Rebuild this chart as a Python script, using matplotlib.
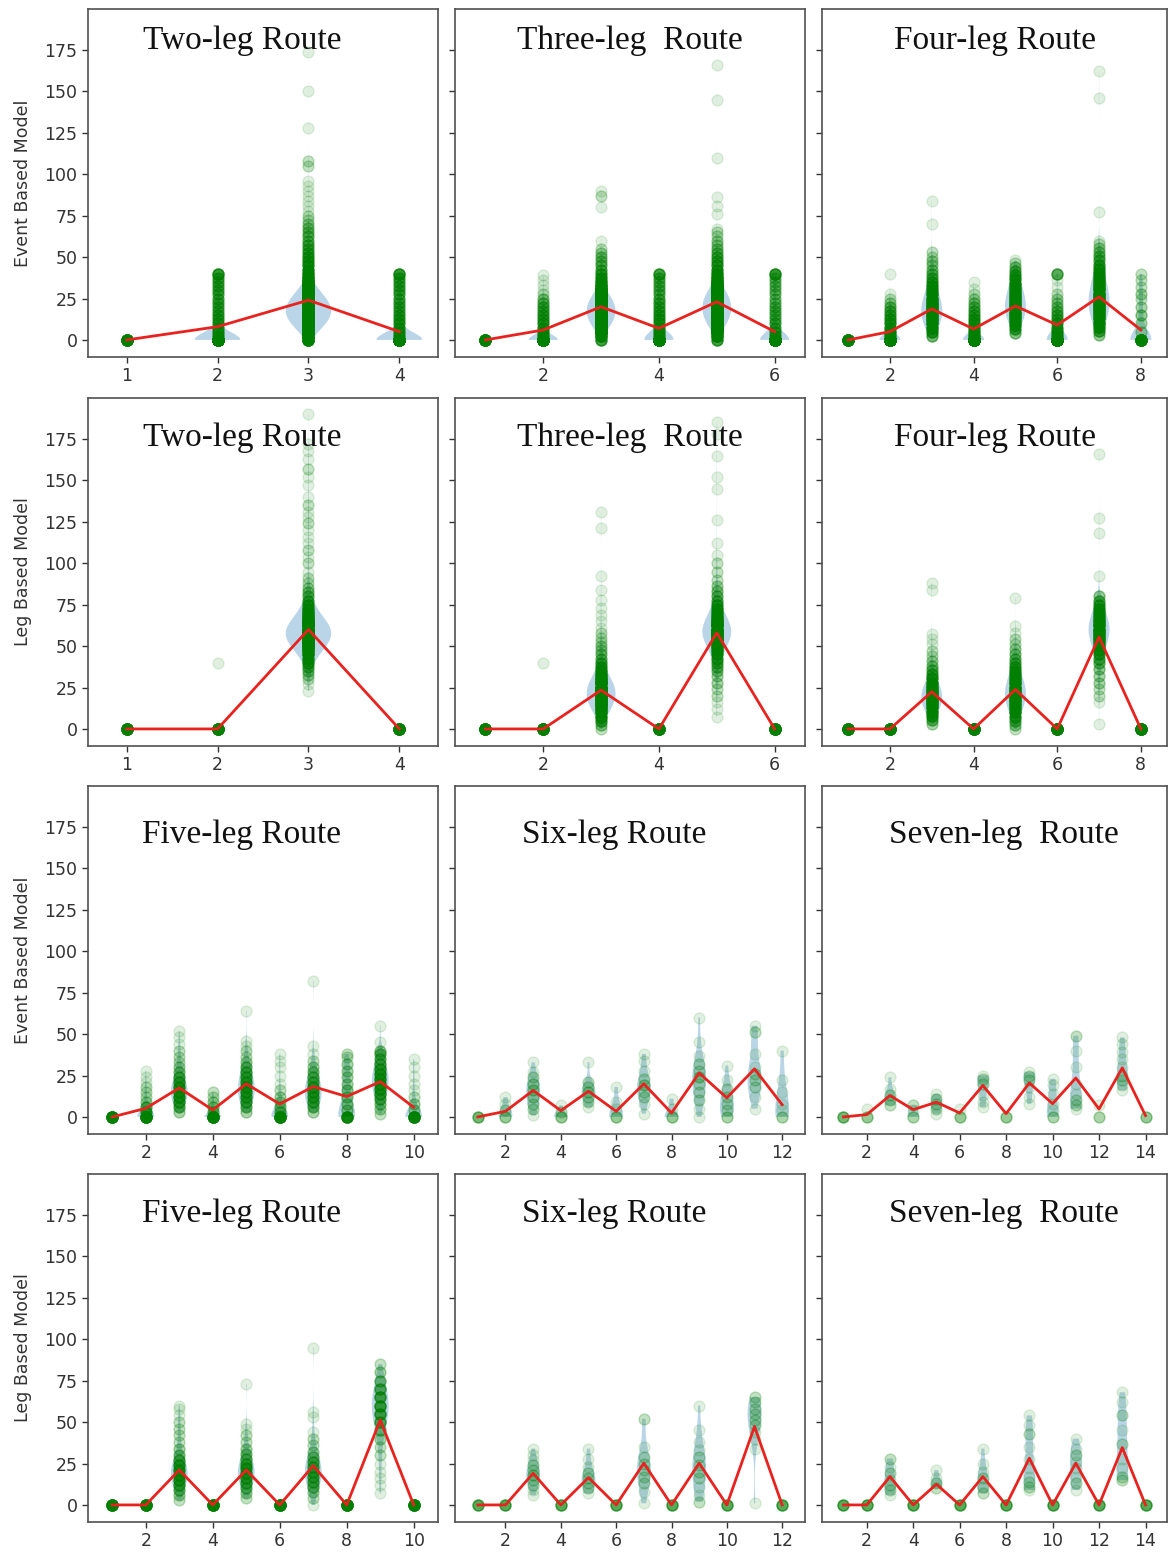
import numpy as np
import matplotlib

matplotlib.use("Agg")
import matplotlib.pyplot as plt  # noqa: E402

# Each category is a list of (value, number of observations at that value).
# Red line = per-category mean, read off the figure.

# ---- Row 1: Event based model ---------------------------------------------
TWO_EVENT_PTS = [
    [(0, 40)],
    [(0, 200), (2.5, 10), (5, 9), (7.5, 8), (10, 8), (12.5, 7), (15, 7), (17.5, 6), (20, 6),
     (22.5, 6), (25, 6), (27.5, 6), (30, 6), (32.5, 6), (35, 6), (37.5, 6), (40, 12)],
    [(0, 30), (2.5, 40), (5, 70), (7.5, 100), (10, 130), (12.5, 150), (15, 165), (17.5, 170),
     (20, 165), (22.5, 150), (25, 130), (27.5, 105), (30, 80), (32.5, 55), (35, 35),
     (37.5, 22), (40, 15), (42.5, 12), (45, 10), (47.5, 9), (50, 8), (52.5, 7), (55, 6),
     (57.5, 6), (60, 5), (62.5, 5), (65, 4), (67.5, 4), (70, 3), (72.5, 2), (75, 2), (78, 1),
     (81, 1), (84, 1), (87, 1), (90, 1), (93, 1), (96, 1), (105, 2), (108, 2), (128, 1),
     (150, 1), (174, 1)],
    [(0, 200), (2.5, 10), (5, 9), (7.5, 8), (10, 8), (12.5, 7), (15, 7), (17.5, 6), (20, 6),
     (22.5, 6), (25, 6), (27.5, 6), (30, 6), (32.5, 6), (35, 6), (37.5, 6), (40, 12)],
]
TWO_EVENT_MEAN = [0, 8, 24, 5]

THREE_EVENT_PTS = [
    [(0, 40)],
    [(0, 150), (2.5, 12), (5, 10), (7.5, 9), (10, 8), (12.5, 7), (15, 7), (17.5, 6), (20, 6),
     (22.5, 5), (25, 4), (27.5, 2), (30, 1), (33, 1), (36, 1), (39, 1)],
    [(0, 10), (2.5, 20), (5, 40), (7.5, 60), (10, 80), (12.5, 95), (15, 105), (17.5, 110),
     (20, 105), (22.5, 95), (25, 80), (27.5, 60), (30, 40), (32.5, 25), (35, 15), (37.5, 10),
     (40, 8), (42.5, 6), (45, 5), (47.5, 4), (50, 4), (52.5, 3), (55, 2), (60, 1), (80, 1),
     (87, 2), (90, 1)],
    [(0, 150), (2.5, 12), (5, 10), (7.5, 9), (10, 8), (12.5, 8), (15, 7), (17.5, 7), (20, 6),
     (22.5, 6), (25, 6), (27.5, 5), (30, 5), (32.5, 5), (35, 5), (37.5, 5), (40, 10)],
    [(0, 10), (2.5, 20), (5, 35), (7.5, 55), (10, 75), (12.5, 90), (15, 100), (17.5, 108),
     (20, 110), (22.5, 105), (25, 95), (27.5, 80), (30, 62), (32.5, 45), (35, 30), (37.5, 20),
     (40, 14), (42.5, 10), (45, 8), (47.5, 7), (50, 6), (52.5, 5), (55, 4), (57.5, 3),
     (60, 3), (62.5, 2), (65, 2), (67, 1), (76, 1), (81, 1), (86, 1), (110, 1), (145, 1),
     (166, 1)],
    [(0, 160), (2.5, 8), (5, 7), (7.5, 6), (10, 6), (12.5, 5), (15, 5), (17.5, 5), (20, 5),
     (22.5, 4), (25, 4), (27.5, 4), (30, 4), (32.5, 4), (35, 4), (37.5, 4), (40, 12)],
]
THREE_EVENT_MEAN = [0, 6, 20, 7, 23, 5]

FOUR_EVENT_PTS = [
    [(0, 40)],
    [(0, 100), (2.5, 14), (5, 12), (7.5, 10), (10, 9), (12.5, 8), (15, 7), (17.5, 6), (20, 5),
     (22.5, 3), (25, 2), (28, 1), (40, 1)],
    [(2.5, 6), (5, 10), (7.5, 14), (10, 18), (12.5, 20), (15, 22), (17.5, 22), (20, 22),
     (22.5, 20), (25, 18), (27.5, 15), (30, 12), (32.5, 10), (35, 8), (37.5, 6), (40, 5),
     (42.5, 4), (45, 3), (47.5, 3), (50, 2), (53, 2), (70, 1), (84, 1)],
    [(0, 100), (2.5, 14), (5, 12), (7.5, 10), (10, 9), (12.5, 8), (15, 7), (17.5, 6), (20, 5),
     (22.5, 4), (25, 3), (28, 2), (31, 1), (35, 1)],
    [(4, 5), (6.5, 8), (9, 12), (11.5, 15), (14, 18), (16.5, 20), (19, 21), (21.5, 21),
     (24, 20), (26.5, 18), (29, 16), (31.5, 14), (34, 12), (36.5, 10), (39, 8), (41.5, 6),
     (44, 4), (46.5, 2), (48, 1)],
    [(0, 100), (2.5, 12), (5, 10), (7.5, 9), (10, 8), (12.5, 7), (15, 6), (17.5, 5), (20, 4),
     (22.5, 3), (25, 3), (28, 2), (32, 1), (36, 1), (40, 8)],
    [(3, 4), (5.5, 8), (8, 12), (10.5, 15), (13, 18), (15.5, 20), (18, 22), (20.5, 24),
     (23, 24), (25.5, 24), (28, 22), (30.5, 20), (33, 18), (35.5, 16), (38, 14), (40.5, 12),
     (43, 10), (45.5, 8), (48, 6), (50.5, 5), (53, 4), (55.5, 3), (58, 2), (60, 1), (77, 1),
     (146, 1), (162, 1)],
    [(0, 40), (5, 3), (10, 3), (15, 4), (20, 3), (25, 2), (28, 3), (32, 2), (36, 2), (40, 2)],
]
FOUR_EVENT_MEAN = [0, 5, 18.7, 6.6, 20.5, 9, 26, 6]

# ---- Row 2: Leg based model -----------------------------------------------
TWO_LEG_PTS = [
    [(0, 40)],
    [(0, 40), (40, 1)],
    [(23, 1), (27, 1), (30, 2), (32.5, 3), (35, 4), (37.5, 6), (40, 9), (42.5, 12), (45, 18),
     (47.5, 25), (50, 34), (52.5, 42), (55, 48), (57.5, 50), (60, 48), (62.5, 42), (65, 34),
     (67.5, 26), (70, 20), (72.5, 14), (75, 10), (77.5, 7), (80, 5), (82.5, 4), (85, 3),
     (88, 2), (91, 2), (95, 1), (100, 2), (104, 1), (108, 2), (112, 1), (116, 1), (120, 1),
     (124, 2), (128, 1), (131, 1), (135, 2), (140, 1), (147, 1), (152, 1), (157, 2),
     (163, 1), (168, 1), (172, 1), (190, 1)],
    [(0, 40)],
]
TWO_LEG_MEAN = [0, 0, 60, 0]

THREE_LEG_PTS = [
    [(0, 40)],
    [(0, 40), (40, 1)],
    [(0, 2), (2.5, 4), (5, 8), (7.5, 12), (10, 18), (12.5, 24), (15, 30), (17.5, 34), (20, 36),
     (22.5, 36), (25, 34), (27.5, 30), (30, 24), (32.5, 18), (35, 12), (37.5, 9), (40, 7),
     (42.5, 5), (45, 4), (47.5, 3), (50, 3), (52.5, 2), (55, 2), (58, 2), (61, 1), (65, 1),
     (69, 1), (73, 1), (78, 1), (84, 1), (92, 1), (121, 1), (131, 1)],
    [(0, 40)],
    [(7, 1), (12, 1), (16, 1), (20, 2), (24, 2), (28, 3), (32, 3), (35, 4), (37.5, 5), (40, 6),
     (42.5, 8), (45, 11), (47.5, 15), (50, 20), (52.5, 26), (55, 32), (57.5, 36), (60, 36),
     (62.5, 32), (65, 26), (67.5, 20), (70, 15), (72.5, 11), (75, 8), (77.5, 6), (80, 5),
     (83, 4), (86, 3), (90, 2), (95, 2), (100, 2), (105, 1), (112, 1), (126, 1), (145, 1),
     (152, 1), (165, 1), (178, 1), (185, 1)],
    [(0, 40)],
]
THREE_LEG_MEAN = [0, 0, 23.4, 0, 58, 0]

FOUR_LEG_PTS = [
    [(0, 40)],
    [(0, 40)],
    [(3, 3), (5.5, 6), (8, 10), (10.5, 14), (13, 18), (15.5, 22), (18, 24), (20.5, 24),
     (23, 22), (25.5, 18), (28, 14), (30.5, 10), (33, 7), (35.5, 5), (38, 4), (41, 3),
     (44, 2), (47, 2), (51, 1), (54, 1), (57, 1), (84, 1), (88, 1)],
    [(0, 40)],
    [(0, 2), (2.5, 4), (5, 6), (7.5, 9), (10, 12), (12.5, 15), (15, 18), (17.5, 20), (20, 21),
     (22.5, 21), (25, 20), (27.5, 18), (30, 15), (32.5, 12), (35, 10), (37.5, 8), (40, 6),
     (42.5, 5), (45, 4), (48, 3), (51, 2), (54, 2), (58, 1), (62, 1), (79, 1)],
    [(0, 40)],
    [(3, 1), (16, 1), (20, 2), (24, 2), (28, 3), (32, 3), (36, 4), (40, 5), (42.5, 6), (45, 8),
     (47.5, 10), (50, 13), (52.5, 16), (55, 19), (57.5, 21), (60, 22), (62.5, 21), (65, 19),
     (67.5, 16), (70, 13), (72.5, 10), (75, 8), (77.5, 6), (80, 4), (92, 1), (118, 1),
     (127, 1), (166, 1)],
    [(0, 40)],
]
FOUR_LEG_MEAN = [0, 0, 22.4, 0, 23.8, 0, 55.5, 0]

# ---- Row 3: Event based model ---------------------------------------------
FIVE_EVENT_PTS = [
    [(0, 30)],
    [(0, 30), (3, 8), (6, 6), (9, 3), (12, 2), (15, 2), (18, 2), (21, 1), (24, 1), (28, 1)],
    [(3, 3), (6, 6), (9, 8), (12, 10), (15, 10), (18, 10), (21, 8), (24, 6), (27, 4),
     (30, 3), (33, 2), (36, 2), (40, 2), (44, 1), (48, 1), (52, 1)],
    [(0, 30), (3, 5), (6, 4), (9, 3), (12, 2), (15, 2)],
    [(3, 3), (6, 5), (9, 7), (12, 8), (15, 9), (18, 9), (21, 8), (24, 7), (27, 6), (30, 5),
     (33, 3), (36, 2), (40, 2), (43, 1), (46, 1), (64, 1)],
    [(0, 30), (3, 5), (6, 4), (9, 3), (12, 3), (16, 2), (20, 1), (25, 1), (30, 1), (34, 1),
     (38, 1)],
    [(3, 3), (6, 5), (9, 7), (12, 8), (15, 8), (18, 8), (21, 6), (24, 5), (27, 4), (30, 3),
     (34, 2), (38, 1), (43, 1), (82, 1)],
    [(0, 20), (4, 4), (8, 4), (12, 4), (16, 4), (20, 3), (24, 3), (28, 3), (32, 3), (36, 2),
     (38, 2)],
    [(2, 2), (5, 3), (8, 4), (11, 6), (14, 8), (17, 9), (20, 10), (23, 10), (26, 9), (29, 8),
     (32, 6), (35, 5), (38, 5), (40, 4), (45, 1), (55, 1)],
    [(0, 25), (4, 3), (8, 3), (12, 2), (16, 1), (20, 1), (25, 1), (30, 1), (35, 1)],
]
FIVE_EVENT_MEAN = [0, 5.2, 17.5, 4.2, 20, 7.8, 18.3, 12.3, 21.3, 5.8]

SIX_EVENT_PTS = [
    [(0, 6)],
    [(0, 4), (4, 2), (8, 1), (12, 1)],
    [(1, 1), (5, 2), (8, 2), (12, 3), (16, 3), (20, 3), (24, 2), (27, 1), (33, 1)],
    [(0, 4), (3, 2), (7, 1)],
    [(6, 1), (9, 2), (12, 2), (15, 3), (18, 2), (21, 2), (33, 1)],
    [(0, 4), (5, 1), (9, 1), (18, 1)],
    [(2, 1), (8, 1), (12, 2), (15, 2), (19, 3), (23, 2), (28, 1), (34, 1), (38, 1)],
    [(0, 4), (5, 1), (11, 1)],
    [(0, 1), (5, 1), (10, 2), (15, 2), (20, 2), (24, 3), (28, 2), (32, 2), (37, 1), (45, 1),
     (60, 1)],
    [(0, 3), (4, 2), (8, 2), (12, 2), (17, 2), (22, 1), (31, 1)],
    [(5, 1), (12, 1), (18, 2), (22, 2), (26, 2), (30, 1), (38, 1), (51, 2), (55, 1)],
    [(0, 3), (4, 1), (8, 1), (15, 1), (22, 1), (40, 1)],
]
SIX_EVENT_MEAN = [0, 3.4, 16, 3.8, 15.5, 3.4, 20, 2.4, 26.5, 11.5, 29, 7.4]

SEVEN_EVENT_PTS = [
    [(0, 6)],
    [(0, 4), (5, 1)],
    [(7, 2), (10, 2), (13, 2), (17, 1), (24, 1)],
    [(0, 3), (4, 1), (7, 2)],
    [(2, 1), (5, 2), (8, 2), (11, 2), (14, 1)],
    [(0, 4), (5, 1)],
    [(6, 1), (9, 1), (13, 1), (20, 2), (23, 2), (25, 1)],
    [(0, 4)],
    [(8, 1), (12, 1), (18, 1), (22, 2), (25, 2), (27, 1)],
    [(0, 3), (4, 1), (8, 1), (14, 1), (19, 1), (23, 1)],
    [(5, 1), (7, 2), (10, 2), (14, 1), (20, 1), (30, 1), (40, 1), (49, 2)],
    [(0, 3), (7, 1)],
    [(16, 1), (19, 1), (22, 2), (25, 2), (30, 1), (35, 1), (39, 1), (44, 1), (48, 1)],
    [(0, 4)],
]
SEVEN_EVENT_MEAN = [0, 1.4, 12.9, 4.4, 8.9, 2.4, 19, 2, 20.5, 8, 23.5, 4.8, 29.6, 0.8]

# ---- Row 4: Leg based model -----------------------------------------------
FIVE_LEG_PTS = [
    [(0, 30)],
    [(0, 30)],
    [(3, 2), (6, 3), (9, 5), (12, 7), (15, 9), (18, 10), (21, 10), (24, 9), (27, 6), (30, 4),
     (34, 3), (38, 2), (42, 2), (46, 2), (50, 2), (54, 1), (58, 1), (60, 1)],
    [(0, 30)],
    [(4, 2), (7, 3), (10, 5), (13, 7), (16, 8), (19, 9), (22, 9), (25, 7), (28, 5), (31, 4),
     (34, 3), (38, 2), (42, 2), (46, 1), (49, 1), (73, 1)],
    [(0, 30)],
    [(0, 1), (4, 2), (8, 3), (11, 5), (14, 6), (17, 7), (20, 7), (23, 7), (26, 6), (29, 4),
     (32, 3), (36, 2), (40, 2), (44, 1), (53, 1), (56, 1), (95, 1)],
    [(0, 30)],
    [(7, 1), (12, 1), (16, 1), (20, 1), (25, 1), (30, 2), (35, 2), (40, 3), (45, 5), (50, 7),
     (55, 9), (60, 10), (65, 9), (70, 7), (75, 5), (80, 3), (85, 2)],
    [(0, 30)],
]
FIVE_LEG_MEAN = [0, 0, 21.1, 0, 21.1, 0, 23.7, 0, 51.3, 0]

SIX_LEG_PTS = [
    [(0, 8)],
    [(0, 8)],
    [(6, 1), (9, 1), (12, 2), (15, 2), (18, 3), (21, 2), (24, 2), (27, 1), (30, 1), (34, 1)],
    [(0, 8)],
    [(7, 1), (10, 2), (13, 2), (16, 2), (19, 2), (23, 1), (28, 1), (34, 1)],
    [(0, 8)],
    [(1, 1), (8, 1), (13, 2), (17, 2), (21, 2), (25, 2), (29, 2), (35, 1), (52, 2)],
    [(0, 8)],
    [(2, 2), (6, 1), (11, 1), (16, 2), (20, 2), (24, 2), (29, 2), (33, 1), (38, 1), (45, 1),
     (60, 1)],
    [(0, 8)],
    [(1, 1), (34, 1), (40, 1), (44, 1), (48, 2), (51, 2), (55, 2), (58, 2), (62, 2), (65, 2)],
    [(0, 8)],
]
SIX_LEG_MEAN = [0, 0, 19.1, 0, 16.5, 0, 25.2, 0, 25.2, 0, 47.3, 0]

SEVEN_LEG_PTS = [
    [(0, 8)],
    [(0, 8)],
    [(6, 1), (9, 2), (12, 2), (15, 1), (19, 2), (23, 1), (28, 2)],
    [(0, 8)],
    [(10, 2), (13, 2), (16, 1), (21, 1)],
    [(0, 8)],
    [(7, 2), (11, 2), (16, 2), (20, 1), (25, 1), (34, 1)],
    [(0, 8)],
    [(9, 1), (11, 2), (14, 2), (17, 1), (22, 1), (28, 1), (35, 1), (43, 2), (48, 1), (54, 1)],
    [(0, 8)],
    [(9, 1), (13, 2), (17, 1), (22, 1), (26, 1), (30, 2), (34, 1), (40, 1)],
    [(0, 8)],
    [(15, 2), (17, 2), (22, 1), (28, 1), (37, 2), (45, 1), (54, 2), (62, 1), (68, 1)],
    [(0, 8)],
]
SEVEN_LEG_MEAN = [0, 0, 17.1, 0, 12.5, 0, 17.1, 0, 28.2, 0, 25.2, 0, 34.6, 0]

TITLES = [
    ["Two-leg Route", "Three-leg  Route", "Four-leg Route"],
    ["Two-leg Route", "Three-leg  Route", "Four-leg Route"],
    ["Five-leg Route", "Six-leg Route", "Seven-leg  Route"],
    ["Five-leg Route", "Six-leg Route", "Seven-leg  Route"],
]
ROW_LABELS = ["Event Based Model", "Leg Based Model", "Event Based Model", "Leg Based Model"]

PANELS = [
    [(TWO_EVENT_PTS, TWO_EVENT_MEAN), (THREE_EVENT_PTS, THREE_EVENT_MEAN),
     (FOUR_EVENT_PTS, FOUR_EVENT_MEAN)],
    [(TWO_LEG_PTS, TWO_LEG_MEAN), (THREE_LEG_PTS, THREE_LEG_MEAN),
     (FOUR_LEG_PTS, FOUR_LEG_MEAN)],
    [(FIVE_EVENT_PTS, FIVE_EVENT_MEAN), (SIX_EVENT_PTS, SIX_EVENT_MEAN),
     (SEVEN_EVENT_PTS, SEVEN_EVENT_MEAN)],
    [(FIVE_LEG_PTS, FIVE_LEG_MEAN), (SIX_LEG_PTS, SIX_LEG_MEAN),
     (SEVEN_LEG_PTS, SEVEN_LEG_MEAN)],
]

# layout, in pixels of the 1169x1552 canvas
W, H = 1169, 1552
COL_LEFT = [88, 455, 822]
COL_WIDTH = [350, 350, 345]
ROW_TOP = [9, 398, 786, 1174]
ROW_HEIGHT = 348
TITLE_POS = [
    [(0.44, 0.91), (0.50, 0.91), (0.50, 0.91)],
    [(0.44, 0.885), (0.50, 0.885), (0.50, 0.885)],
    [(0.44, 0.86), (0.455, 0.86), (0.527, 0.86)],
    [(0.44, 0.885), (0.455, 0.885), (0.527, 0.885)],
]


def _expand(pts):
    vals = [v for v, _ in pts]
    cnts = [c for _, c in pts]
    return np.repeat(np.array(vals, dtype=float), cnts)


def _draw_panel(ax, pts, means):
    n = len(pts)
    pos = np.arange(1, n + 1)
    data = [_expand(p) for p in pts]

    # violins only where there is an actual spread of values
    vidx = [i for i, d in enumerate(data) if len(np.unique(d)) >= 3]
    if vidx:
        vp = ax.violinplot([data[i] for i in vidx], positions=pos[vidx], widths=0.5,
                           showextrema=False)
        for body in vp["bodies"]:
            body.set_facecolor("#1f77b4")
            body.set_edgecolor("none")
            body.set_alpha(0.3)
            body.set_zorder(1)

    for x, d in zip(pos, data):
        ax.scatter(np.full(len(d), x), d, s=62, color="green", alpha=0.12, zorder=2)

    ax.plot(pos, means, color="#e8221e", linewidth=2.0, zorder=3)

    span = n - 0.5
    ax.set_xlim(0.75 - 0.05 * span, n + 0.25 + 0.05 * span)
    ax.set_ylim(-10.3, 199.7)
    ax.set_yticks(np.arange(0, 176, 25))
    if n == 4:
        ax.set_xticks([1, 2, 3, 4])
    else:
        ax.set_xticks(np.arange(2, n + 1, 2))


def main():
    fig = plt.figure(figsize=(W / 100, H / 100), dpi=100)
    for r in range(4):
        for c in range(3):
            left = COL_LEFT[c] / W
            bottom = 1 - (ROW_TOP[r] + ROW_HEIGHT) / H
            ax = fig.add_axes([left, bottom, COL_WIDTH[c] / W, ROW_HEIGHT / H])
            pts, means = PANELS[r][c]
            _draw_panel(ax, pts, means)

            for sp in ax.spines.values():
                sp.set_color("#505050")
                sp.set_linewidth(1.2)
            ax.tick_params(labelsize=12.5, colors="#333333", length=4, width=1)
            if c == 0:
                ax.set_ylabel(ROW_LABELS[r], fontsize=12.5, color="#333333", labelpad=9)
            else:
                ax.tick_params(axis="y", labelleft=False)

            tx, ty = TITLE_POS[r][c]
            ax.text(tx, ty, TITLES[r][c], transform=ax.transAxes, ha="center", va="center",
                    fontsize=24, family="Liberation Serif", color="#111111", zorder=5)

    fig.savefig("out.png", dpi=100)


if __name__ == "__main__":
    main()
